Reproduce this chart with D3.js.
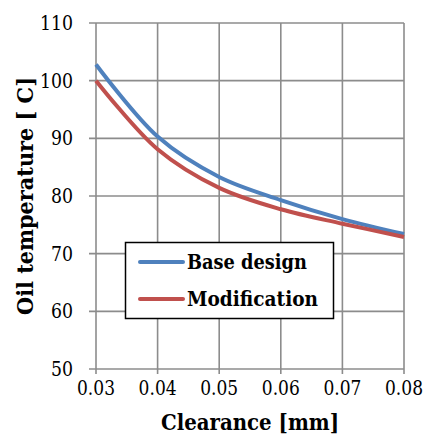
<!DOCTYPE html>
<html lang="en">
<head>
  <meta charset="utf-8">
  <title>Oil temperature</title>
  <script src="https://cdn.jsdelivr.net/npm/d3@7"></script>
  <style type="text/css">
    body{ margin:0; background:#fff; }
    text{ font-family: "DejaVu Serif", serif; }
  </style>
</head>
<body>
  <script type="text/javascript">

    var width = 427;
    var height = 436;

    // plot box
    var plotLeft = 96, plotRight = 404, plotTop = 23, plotBottom = 369;

    // data
    var clearance = [0.03, 0.04, 0.05, 0.06, 0.07, 0.08];
    var baseDesign = [102.8, 90.3, 83.3, 79.3, 76.0, 73.4];
    var modification = [100.0, 88.1, 81.4, 77.7, 75.2, 72.9];
    var xTicks = [0.03, 0.04, 0.05, 0.06, 0.07, 0.08];
    var yTicks = [50, 60, 70, 80, 90, 100, 110];
    var seriesNames = ["Base design", "Modification"];
    var seriesColors = ["#4F81BD", "#C0504D"];

    var svg = d3.select("body")
            .append("svg")
            .attr("width", width)
            .attr("height", height);

    var xScale = d3.scaleLinear().domain([0.03, 0.08]).range([plotLeft, plotRight]);
    var yScale = d3.scaleLinear().domain([50, 110]).range([plotBottom, plotTop]);

    var gridColor = "#8c8c8c";

    // gridlines
    svg.selectAll(".hgrid")
        .data(yTicks)
        .enter()
        .append("line")
        .attr("class", "hgrid")
        .attr("x1", plotLeft - 7)
        .attr("x2", plotRight)
        .attr("y1", function(d){ return yScale(d); })
        .attr("y2", function(d){ return yScale(d); })
        .attr("stroke", gridColor)
        .attr("stroke-width", 1.6);

    svg.selectAll(".vgrid")
        .data(xTicks)
        .enter()
        .append("line")
        .attr("class", "vgrid")
        .attr("x1", function(d){ return xScale(d); })
        .attr("x2", function(d){ return xScale(d); })
        .attr("y1", plotTop)
        .attr("y2", plotBottom + 5)
        .attr("stroke", gridColor)
        .attr("stroke-width", 1.6);

    // tick labels (DejaVu Serif is wider than Times, so squeeze to the reference widths)
    svg.selectAll(".ylab")
        .data(yTicks)
        .enter()
        .append("text")
        .attr("class", "ylab")
        .attr("x", 73)
        .attr("y", function(d){ return yScale(d) + 7; })
        .attr("text-anchor", "end")
        .attr("font-size", 21)
        .attr("textLength", function(d){ return String(d).length * 11; })
        .attr("lengthAdjust", "spacingAndGlyphs")
        .text(function(d){ return d; });

    svg.selectAll(".xlab")
        .data(xTicks)
        .enter()
        .append("text")
        .attr("class", "xlab")
        .attr("x", function(d){ return xScale(d); })
        .attr("y", 395)
        .attr("text-anchor", "middle")
        .attr("font-size", 21)
        .attr("textLength", 38)
        .attr("lengthAdjust", "spacingAndGlyphs")
        .text(function(d){ return d3.format(".2f")(d); });

    // axis titles
    svg.append("text")
        .attr("x", (plotLeft + plotRight) / 2)
        .attr("y", 430)
        .attr("text-anchor", "middle")
        .attr("font-size", 22)
        .attr("font-weight", "bold")
        .attr("textLength", 178)
        .attr("lengthAdjust", "spacingAndGlyphs")
        .text("Clearance [mm]");

    svg.append("text")
        .attr("transform", "translate(33," + ((plotTop + plotBottom) / 2) + ") rotate(-90)")
        .attr("text-anchor", "middle")
        .attr("font-size", 22)
        .attr("font-weight", "bold")
        .attr("textLength", 238)
        .attr("lengthAdjust", "spacingAndGlyphs")
        .text("Oil temperature [ C]");

    // curves, smoothed like the spreadsheet lines
    var line = d3.line()
        .x(function(d){ return xScale(d[0]); })
        .y(function(d){ return yScale(d[1]); })
        .curve(d3.curveCatmullRom.alpha(0.5));

    var allSeries = [baseDesign, modification];
    allSeries.forEach(function(vals, i){
        svg.append("path")
            .datum(clearance.map(function(c, j){ return [c, vals[j]]; }))
            .attr("fill", "none")
            .attr("stroke", seriesColors[i])
            .attr("stroke-width", 4)
            .attr("d", line);
    });

    // legend
    var legendWidths = [120, 131];
    var lg = svg.append("g");
    lg.append("rect")
        .attr("x", 125.5)
        .attr("y", 242.5)
        .attr("width", 208)
        .attr("height", 76)
        .attr("fill", "#fff")
        .attr("stroke", "#000")
        .attr("stroke-width", 1.5);

    seriesNames.forEach(function(name, i){
        var yy = 262 + i * 37;
        lg.append("line")
            .attr("x1", 140)
            .attr("x2", 183)
            .attr("y1", yy)
            .attr("y2", yy)
            .attr("stroke", seriesColors[i])
            .attr("stroke-width", 4)
            .attr("stroke-linecap", "round");
        lg.append("text")
            .attr("x", 187)
            .attr("y", yy + 7)
            .attr("font-size", 21)
            .attr("font-weight", "bold")
            .attr("textLength", legendWidths[i])
            .attr("lengthAdjust", "spacingAndGlyphs")
            .text(name);
    });

  </script>
</body>
</html>
